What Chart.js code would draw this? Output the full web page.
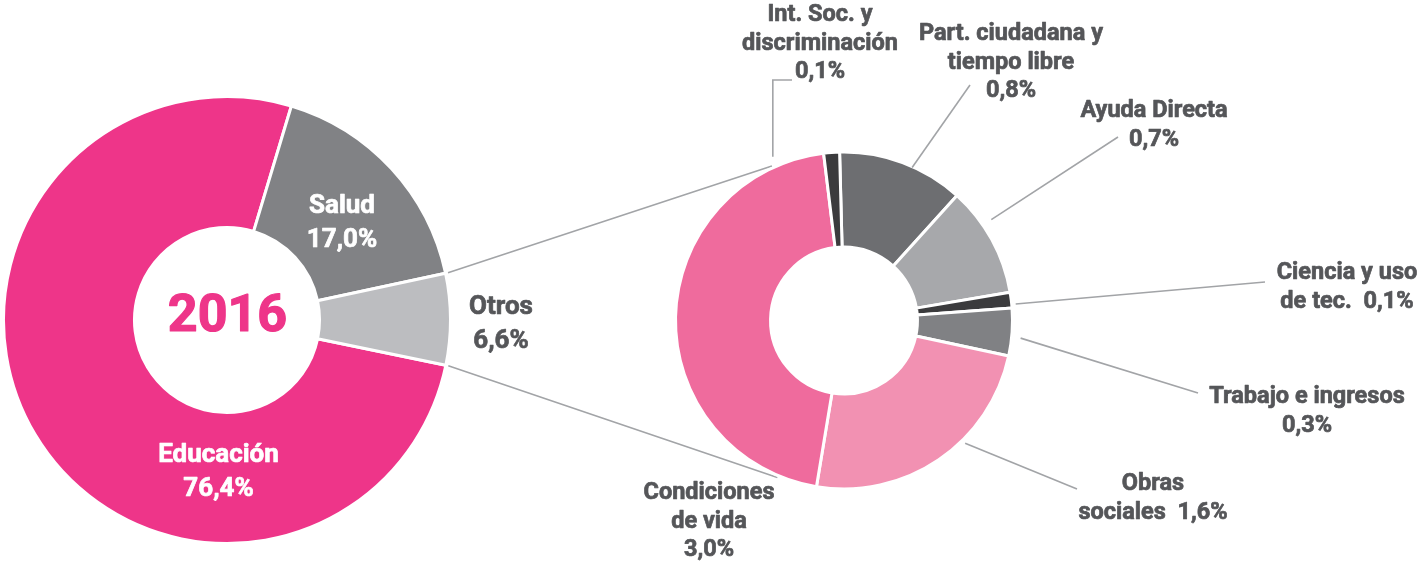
<!DOCTYPE html>
<html lang="es">
<head>
<meta charset="utf-8">
<title>Distribución 2016</title>
<script src="https://cdn.jsdelivr.net/npm/chart.js@4.4.1/dist/chart.umd.min.js"></script>
<style>
  html, body { margin: 0; padding: 0; background: #fff; }
  #wrap { position: relative; width: 1421px; height: 564px; }
  #wrap > div { position: absolute; left: 0; top: 0; width: 1421px; height: 564px; }
</style>
</head>
<body>
<div id="wrap">
  <div><canvas id="total"></canvas></div>
  <div><canvas id="otros"></canvas></div>
</div>
<script>
const anio = '2016';

const categoriasTotal = ['Educación', 'Salud', 'Otros'];
const valoresTotal = [76.4, 17.0, 6.6];

const categoriasOtros = [
  'Part. ciudadana y tiempo libre',
  'Ayuda Directa',
  'Ciencia y uso de tec.',
  'Trabajo e ingresos',
  'Obras sociales',
  'Condiciones de vida',
  'Int. Soc. y discriminación'
];
const valoresOtros = [0.8, 0.7, 0.1, 0.3, 1.6, 3.0, 0.1];

// como se parte cada etiqueta en lineas, {v} = valor
const textosTotal = [['Educación', '{v}'], ['Salud', '{v}'], ['Otros', '{v}']];
const textosOtros = [
  ['Part. ciudadana y', 'tiempo libre', '{v}'],
  ['Ayuda Directa', '{v}'],
  ['Ciencia y uso', 'de tec.  {v}'],
  ['Trabajo e ingresos', '{v}'],
  ['Obras', 'sociales  {v}'],
  ['Condiciones', 'de vida', '{v}'],
  ['Int. Soc. y', 'discriminación', '{v}']
];

const coloresTotal = ['#ee3589', '#818285', '#bcbdc0'];
const coloresOtros = ['#6d6e71', '#a7a8ab', '#3b3b3d', '#808184', '#f291b2', '#ef6b9d', '#3b3b3d'];

const GRIS_TEXTO = '#555659';
const GRIS_LINEA = '#a2a4a7';
const FUENTE = 'Roboto, "Noto Sans", sans-serif';

const pct = v => v.toFixed(1).replace('.', ',') + '%';

// posicion de las etiquetas relativa al centro de cada dona
const posTotal = [
  { dx: -8.5, dy: 135.5, color: '#fff' },
  { dx: 115, dy: -113.5, color: '#fff' },
  { dx: 274, dy: -12.5, color: GRIS_TEXTO }
];
const posOtros = [
  { dx: 167, dy: -286, guia: { ang: 24, r: -1, a: [126, -235.5] } },
  { dx: 310, dy: -209, guia: { ang: 55.6, r: 10, a: [274, -183.5] } },
  { dx: 503, dy: -47, guia: { ang: 84.5, r: 4, a: [421, -38.5] } },
  { dx: 463, dy: 77, guia: { ang: 95.7, r: 9, a: [354, 72.5] } },
  { dx: 309, dy: 164, guia: { ang: 135.4, r: 4, a: [233, 168.5] } },
  { dx: -135, dy: 173 },
  { dx: -24, dy: -305, guia: { ang: -23.5, r: 10, codo: true, a: [-52, -240.5] } }
];

function polar(arc, ang, r) {
  const a = (ang - 90) * Math.PI / 180;
  return [arc.x + r * Math.cos(a), arc.y + r * Math.sin(a)];
}

const etiquetasPlugin = {
  id: 'etiquetas',
  afterDraw(chart, args, opts) {
    const ctx = chart.ctx;
    const arcs = chart.getDatasetMeta(0).data;
    const valores = chart.data.datasets[0].data;
    const c = arcs[0];
    ctx.save();
    ctx.strokeStyle = GRIS_LINEA;
    ctx.lineWidth = 1.6;
    opts.pos.forEach((p, i) => {
      if (!p.guia) return;
      const g = p.guia;
      const ini = polar(c, g.ang, c.outerRadius + g.r);
      const fin = [c.x + g.a[0], c.y + g.a[1]];
      ctx.beginPath();
      ctx.moveTo(ini[0], ini[1]);
      if (g.codo) ctx.lineTo(ini[0], fin[1]);
      ctx.lineTo(fin[0], fin[1]);
      ctx.stroke();
    });
    ctx.font = 'bold ' + opts.tam + 'px ' + FUENTE;
    ctx.textAlign = 'center';
    ctx.textBaseline = 'middle';
    ctx.lineWidth = 0.7;
    ctx.lineJoin = 'round';
    opts.pos.forEach((p, i) => {
      ctx.fillStyle = p.color || GRIS_TEXTO;
      ctx.strokeStyle = p.color || GRIS_TEXTO;
      opts.textos[i].forEach((linea, k) => {
        const t = linea.replace('{v}', pct(valores[i]));
        const y = c.y + p.dy + k * opts.interlineado;
        ctx.fillText(t, c.x + p.dx, y);
        ctx.strokeText(t, c.x + p.dx, y);
      });
    });
    if (opts.centro) {
      ctx.fillStyle = coloresTotal[0];
      ctx.strokeStyle = coloresTotal[0];
      ctx.lineWidth = 1.2;
      ctx.font = 'bold 52px ' + FUENTE;
      ctx.fillText(opts.centro, c.x + 0.5, c.y - 2);
      ctx.strokeText(opts.centro, c.x + 0.5, c.y - 2);
    }
    ctx.restore();
  }
};

const chartTotal = new Chart(document.getElementById('total'), {
  type: 'doughnut',
  data: {
    labels: categoriasTotal,
    datasets: [{ data: valoresTotal, backgroundColor: coloresTotal, borderColor: '#fff', borderWidth: 3 }]
  },
  options: {
    responsive: true,
    maintainAspectRatio: false,
    animation: false,
    events: [],
    rotation: 101.7,
    radius: 223.5,
    cutout: '41.4%',
    layout: { padding: { left: 0, right: 967, top: 96, bottom: 20 } },
    plugins: {
      legend: { display: false },
      tooltip: { enabled: false },
      etiquetas: { textos: textosTotal, pos: posTotal, tam: 26, interlineado: 33.5, centro: anio }
    }
  },
  plugins: [etiquetasPlugin]
});

// lineas que unen "Otros" con la segunda dona
const conectorPlugin = {
  id: 'conector',
  beforeDraw(chart) {
    const otros = chartTotal.getDatasetMeta(0).data[2];
    const c = chart.getDatasetMeta(0).data[0];
    const ctx = chart.ctx;
    const r0 = otros.outerRadius + 2.5;
    const p1 = [otros.x + r0 * Math.cos(otros.startAngle), otros.y + r0 * Math.sin(otros.startAngle)];
    const p2 = [otros.x + r0 * Math.cos(otros.endAngle), otros.y + r0 * Math.sin(otros.endAngle)];
    const q1 = polar(c, -25, c.outerRadius + 2);
    const q2 = polar(c, 203, c.outerRadius + 2);
    ctx.save();
    ctx.strokeStyle = GRIS_LINEA;
    ctx.lineWidth = 1.6;
    ctx.beginPath();
    ctx.moveTo(p1[0], p1[1]);
    ctx.lineTo(q1[0], q1[1]);
    ctx.moveTo(p2[0], p2[1]);
    ctx.lineTo(q2[0], q2[1]);
    ctx.stroke();
    ctx.restore();
  }
};

const chartOtros = new Chart(document.getElementById('otros'), {
  type: 'doughnut',
  data: {
    labels: categoriasOtros,
    datasets: [{ data: valoresOtros, backgroundColor: coloresOtros, borderColor: '#fff', borderWidth: 3 }]
  },
  options: {
    responsive: true,
    maintainAspectRatio: false,
    animation: false,
    events: [],
    rotation: -1.5,
    radius: 168.5,
    cutout: '43.6%',
    layout: { padding: { left: 675, right: 408, top: 152, bottom: 75 } },
    plugins: {
      legend: { display: false },
      tooltip: { enabled: false },
      etiquetas: { textos: textosOtros, pos: posOtros, tam: 23.5, interlineado: 28.5 }
    }
  },
  plugins: [conectorPlugin, etiquetasPlugin]
});
</script>
</body>
</html>
